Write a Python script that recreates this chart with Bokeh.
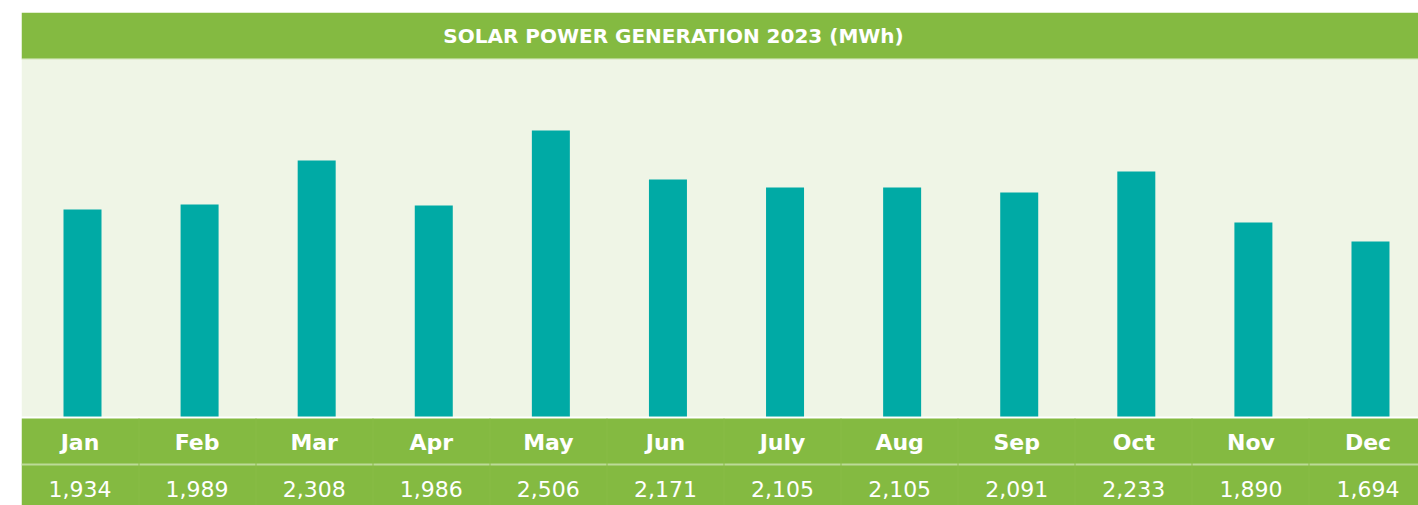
from bokeh.plotting import figure
from bokeh.models import Range1d, ColumnDataSource
from bokeh.core.properties import value
from bokeh.embed import file_html
from bokeh.resources import INLINE

# ---- data ----
title_text = "SOLAR POWER GENERATION 2023 (MWh)"
months = ["Jan", "Feb", "Mar", "Apr", "May", "Jun", "July", "Aug", "Sep", "Oct", "Nov", "Dec"]
table_values = [1934, 1989, 2308, 1986, 2506, 2171, 2105, 2105, 2091, 2233, 1890, 1694]
# bar heights as drawn in the picture (value scale starting at bar_base)
bar_values = [1934, 1970, 2289, 1963, 2506, 2151, 2093, 2093, 2057, 2209, 1840, 1702]
bar_base = 435

# ---- styling / layout constants ----
GREEN = "#84BA41"
BG = "#EFF5E6"
TEAL = "#00AAA5"
W, H = 1418, 505
LEFT, TOP = 21, 12
FX0, FX1 = LEFT, W          # frame picture x
FY0, FY1 = TOP, H           # frame picture y
CAT_PX = 117.09
FIRST_CENTER = 82.0
BASE_Y = 416.0
PX_PER_UNIT = 0.1381

x_start = (FX0 - FIRST_CENTER) / CAT_PX
x_end = (FX1 - FIRST_CENTER) / CAT_PX
y_start = bar_base - (FY1 - BASE_Y) / PX_PER_UNIT
y_end = bar_base + (BASE_Y - FY0) / PX_PER_UNIT

p = figure(width=W, height=H, output_backend="svg", toolbar_location=None,
           x_range=Range1d(x_start, x_end), y_range=Range1d(y_start, y_end),
           x_axis_location=None, y_axis_location=None,
           min_border_left=LEFT, min_border_right=0, min_border_top=TOP, min_border_bottom=0)
p.extra_x_ranges = {"px": Range1d(FX0, FX1)}
p.extra_y_ranges = {"py": Range1d(FY1, FY0)}
p.grid.visible = False
p.outline_line_color = None
p.background_fill_color = "white"
p.border_fill_color = "white"

deco = dict(x_range_name="px", y_range_name="py", line_color=None)
# title band
p.quad(left=FX0, right=FX1, top=12, bottom=58, fill_color=GREEN, **deco)
p.quad(left=FX0, right=FX1, top=58, bottom=59, fill_color="#A3CC72", **deco)
# plot background
p.quad(left=FX0, right=FX1, top=59, bottom=416, fill_color=BG, **deco)
# table band
p.quad(left=FX0, right=FX1, top=418, bottom=FY1, fill_color=GREEN, **deco)
p.quad(left=FX0, right=FX1, top=463, bottom=465, fill_color="#BCDA98", **deco)
sep_x = [FX0 + 117 * i + 0.5 for i in range(1, 12)]
p.segment(x0=sep_x, x1=sep_x, y0=[418] * 11, y1=[FY1] * 11, line_color="#88BC47",
          line_width=1, x_range_name="px", y_range_name="py")

# bars
idx = list(range(len(months)))
src = ColumnDataSource(dict(x=idx, top=bar_values, month=months,
                            label=[f"{v:,}" for v in table_values]))
p.vbar(x="x", top="top", bottom=bar_base, width=38 / CAT_PX, source=src,
       fill_color=TEAL, line_color=None)

# title
p.text(x=[673], y=[35.5], text=[title_text], x_range_name="px", y_range_name="py",
       text_font=value("DejaVu Sans"), text_font_style="bold", text_font_size="20px",
       text_color="white", text_align="center", text_baseline="middle")

# month labels
p.text(x="x", y=441.5, text="month", source=src, y_range_name="py", x_offset=-2.5,
       text_font=value("DejaVu Sans"), text_font_style="bold", text_font_size="22px",
       text_color="white", text_align="center", text_baseline="middle")
# value labels
p.text(x="x", y=488.5, text="label", source=src, y_range_name="py", x_offset=-2.5,
       text_font=value("DejaVu Sans"), text_font_size="22px",
       text_color="white", text_align="center", text_baseline="middle")

open("out.html", "w").write(file_html(p, INLINE))
